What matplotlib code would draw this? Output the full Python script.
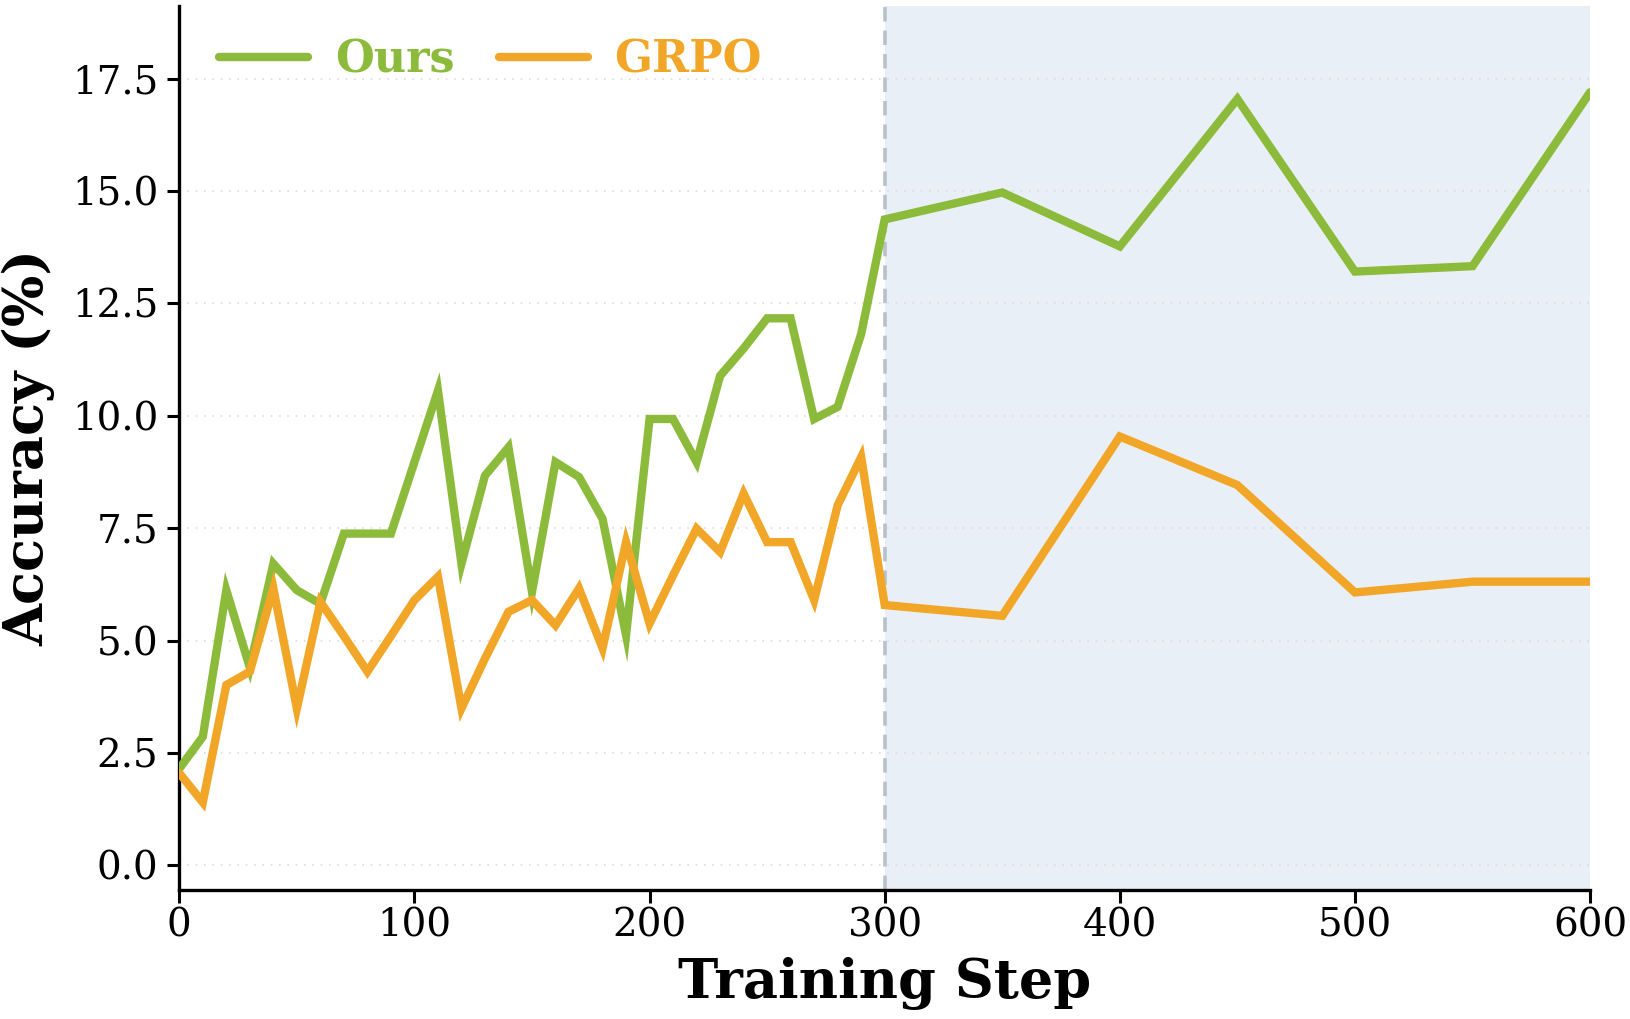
import matplotlib
matplotlib.use("Agg")
import matplotlib.pyplot as plt
import numpy as np

steps = [0, 10, 20, 30, 40, 50, 60, 70, 80, 90, 100, 110, 120, 130, 140, 150,
         160, 170, 180, 190, 200, 210, 220, 230, 240, 250, 260, 270, 280, 290,
         300, 350, 400, 450, 500, 550, 600]
ours = [2.15, 2.86, 6.12, 4.4, 6.71, 6.12, 5.82, 7.38, 7.38, 7.38, 8.97, 10.56,
        6.71, 8.67, 9.30, 6.08, 8.97, 8.64, 7.71, 5.12, 9.93, 9.93, 8.97, 10.89,
        11.5, 12.17, 12.17, 9.93, 10.2, 11.82, 14.37, 14.97, 13.77, 17.05,
        13.21, 13.33, 17.2]
grpo = [2.05, 1.4, 4.01, 4.31, 6.16, 3.49, 5.86, 5.1, 4.31, 5.1, 5.90, 6.42,
        3.49, 4.6, 5.64, 5.90, 5.34, 6.16, 4.83, 7.19, 5.38, 6.45, 7.49, 6.97,
        8.27, 7.19, 7.19, 5.90, 8.01, 9.08, 5.79, 5.55, 9.54, 8.46, 6.07, 6.31,
        6.31]
series_names = ["Ours", "GRPO"]
x_ticks = [0, 100, 200, 300, 400, 500, 600]
y_ticks = [0.0, 2.5, 5.0, 7.5, 10.0, 12.5, 15.0, 17.5]
boundary = 300

GREEN = "#8cbb3c"
ORANGE = "#f2a628"

plt.rcParams["font.family"] = ["DejaVu Serif"]

fig = plt.figure(figsize=(16.3, 10.19), dpi=100)
ax = fig.add_axes([0.110, 0.1266, 0.8655, 0.868])

ax.axvspan(boundary, 600, color="#e9eff7", zorder=0, lw=0)
ax.axvline(boundary, color="#b9c0cb", ls=(0, (4, 2.5)), lw=2.6, zorder=1)

ax.plot(steps, ours, color=GREEN, lw=6.0, label=series_names[0], zorder=3,
        solid_capstyle="round", solid_joinstyle="miter")
ax.plot(steps, grpo, color=ORANGE, lw=6.0, label=series_names[1], zorder=3,
        solid_capstyle="round", solid_joinstyle="miter")

ax.set_xlim(0, 600)
ax.set_ylim(-0.55, 19.13)
ax.set_xticks(x_ticks)
ax.set_yticks(y_ticks)
ax.set_yticklabels([f"{v:.1f}" for v in y_ticks])
ax.tick_params(axis="both", labelsize=28, width=2.2, length=9, direction="out")
ax.tick_params(axis="y", pad=6)
ax.yaxis.grid(True, ls=(0, (1, 4)), color="#dddddd", lw=1.2, zorder=0)
ax.set_axisbelow(True)

for s in ["top", "right"]:
    ax.spines[s].set_visible(False)
for s in ["left", "bottom"]:
    ax.spines[s].set_linewidth(2.4)

ax.set_xlabel("Training Step", fontsize=39, fontweight="bold", labelpad=9)
ax.set_ylabel("Accuracy (%)", fontsize=39, fontweight="bold", labelpad=12)

leg = ax.legend(loc="upper left", ncol=2, frameon=False,
                prop={"weight": "bold", "size": 32}, handlelength=2.0,
                columnspacing=1.0, handletextpad=0.6,
                bbox_to_anchor=(0.0, 1.008))
for txt, col in zip(leg.get_texts(), [GREEN, ORANGE]):
    txt.set_color(col)
for ln in leg.get_lines():
    ln.set_linewidth(6.0)
    ln.set_solid_capstyle("round")

fig.savefig("out.png", dpi=100)
